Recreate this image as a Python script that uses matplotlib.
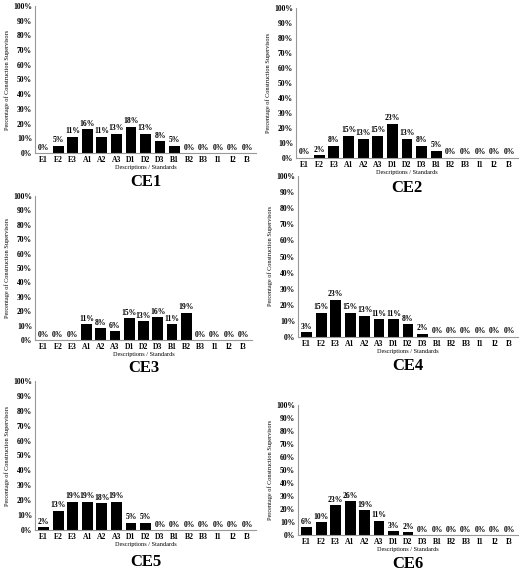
import numpy as np
import matplotlib.pyplot as plt
from matplotlib.ticker import PercentFormatter

plt.rcParams['font.family'] = 'Liberation Serif'
plt.rcParams['font.weight'] = 'bold'

categories = ['E1', 'E2', 'E3', 'A1', 'A2', 'A3', 'D1', 'D2', 'D3', 'B1', 'B2', 'B3', 'I1', 'I2', 'I3']
ce1 = [0, 5, 11, 16, 11, 13, 18, 13, 8, 5, 0, 0, 0, 0, 0]
ce2 = [0, 2, 8, 15, 13, 15, 23, 13, 8, 5, 0, 0, 0, 0, 0]
ce3 = [0, 0, 0, 11, 8, 6, 15, 13, 16, 11, 19, 0, 0, 0, 0]
ce4 = [3, 15, 23, 15, 13, 11, 11, 8, 2, 0, 0, 0, 0, 0, 0]
ce5 = [2, 13, 19, 19, 18, 19, 5, 5, 0, 0, 0, 0, 0, 0, 0]
ce6 = [6, 10, 23, 26, 19, 11, 3, 2, 0, 0, 0, 0, 0, 0, 0]
titles = ['CE1', 'CE2', 'CE3', 'CE4', 'CE5', 'CE6']
series = [ce1, ce2, ce3, ce4, ce5, ce6]

W, H = 520, 572
# pixel boxes: left, top, right, bottom, title y
boxes = [(35, 6, 256, 153, 182), (296, 8, 518, 158, 188),
         (35, 196, 252, 340, 368), (298, 176, 518, 337, 366),
         (35, 381, 256, 530, 562), (298, 405, 518, 535, 564)]

fig = plt.figure(figsize=(W / 100, H / 100), dpi=100)
x = np.arange(len(categories))
for (l, t, r, b, ty), vals, name in zip(boxes, series, titles):
    ax = fig.add_axes([l / W, 1 - b / H, (r - l) / W, (b - t) / H])
    ax.bar(x, vals, width=0.75, color='black')
    for xi, v in zip(x, vals):
        ax.text(xi, v + 1, f'{v}%', ha='center', va='bottom', fontsize=5.5)
    ax.set_ylim(0, 100)
    ax.set_xlim(-0.6, len(categories) - 0.4)
    ax.set_yticks(range(0, 101, 10))
    ax.yaxis.set_major_formatter(PercentFormatter(decimals=0))
    ax.set_xticks(x)
    ax.set_xticklabels(categories)
    ax.tick_params(labelsize=5.5, length=0, pad=2)
    ax.spines['top'].set_visible(False)
    ax.spines['right'].set_visible(False)
    ax.spines['left'].set_color('#999999')
    ax.spines['bottom'].set_color('#999999')
    ax.set_xlabel('Descriptions / Standards', fontsize=4.5, labelpad=1)
    ax.set_ylabel('Percentage of Construction Supervisors', fontsize=4.5, labelpad=2)
    fig.text((l + r) / 2 / W, 1 - ty / H, name, ha='center', va='center', fontsize=12)

fig.savefig('out.png', dpi=100)
